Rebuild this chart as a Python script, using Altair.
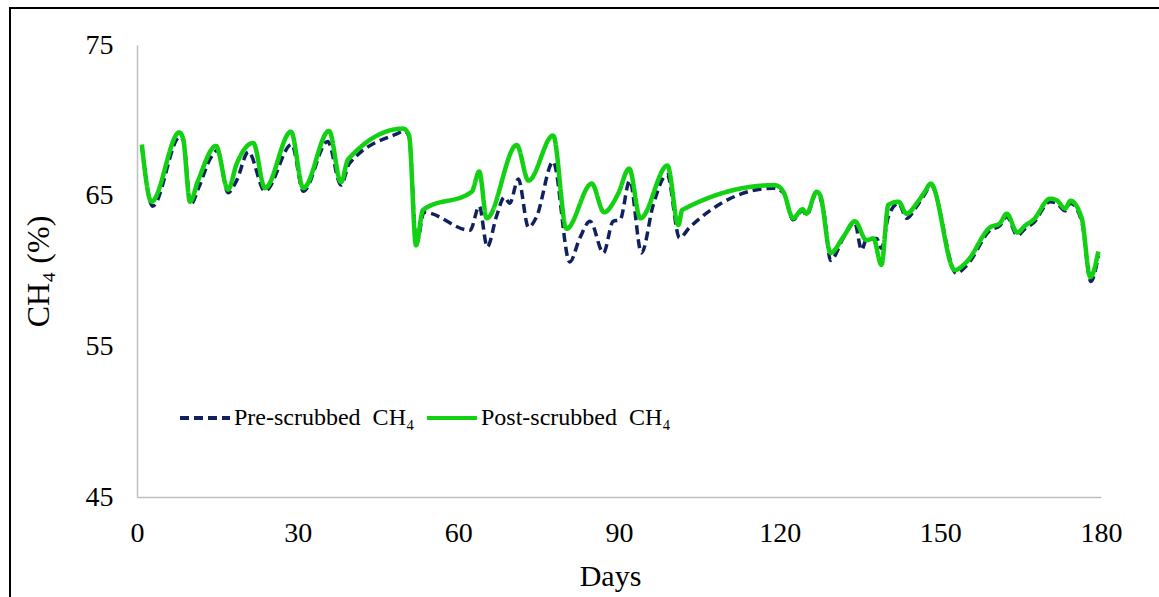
import altair as alt
import pandas as pd

pre_days = [0.9, 2.9, 8.0, 8.7, 10.0, 11.6, 13.6, 15.0, 17.0, 18.6, 20.8, 23.9, 28.9, 31.05,
            35.6, 38.1, 39.6, 48.5, 50.0, 50.8, 52.2, 53.6, 62.2, 63.9, 65.4, 67.1, 68.6,
            69.6, 71.2, 73.1, 74.6, 77.7, 80.8, 82.7, 84.6, 87.1, 88.9, 90.2, 92.0, 94.2,
            96.4, 99.0, 101.3, 103.2, 118.8, 120.7, 122.5, 124.3, 125.0, 126.9, 128.3,
            129.5, 131.9, 134.0, 135.3, 136.2, 138.1, 139.0, 140.3, 142.2, 143.7, 145.6,
            147.1, 148.2, 153.0, 155.0, 159.3, 161.1, 162.4, 164.4, 165.8, 167.4, 170.5,
            171.7, 173.3, 174.3, 176.4, 178.1, 179.5]
pre_vals = [68.3, 64.3, 68.9, 68.6, 64.4, 65.6, 67.4, 68.0, 65.2, 66.0, 67.9, 65.3, 68.4, 65.3,
            68.6, 65.7, 67.1, 69.1, 69.3, 68.9, 61.8, 63.9, 62.7, 64.3, 61.6, 63.6, 64.9,
            64.5, 66.1, 62.9, 63.6, 67.25, 60.6, 62.2, 63.3, 61.2, 63.3, 63.4, 66.0, 61.2,
            64.4, 66.4, 62.2, 62.9, 65.5, 65.2, 63.4, 64.0, 63.7, 65.2, 63.8,
            60.7, 62.2, 63.2, 61.4, 62.1, 62.16, 61.5, 63.6, 64.5, 63.5, 64.3,
            65.1, 65.7, 59.85, 60.4, 62.7, 63.0, 63.6, 62.35, 62.8, 63.2, 64.6,
            64.5, 64.0, 64.5, 63.3, 59.3, 61.0]

post_days = [0.9, 2.7, 7.9, 8.6, 9.9, 11.4, 14.75, 17.0, 18.6, 21.7, 23.9, 28.75, 31.05,
             35.85, 38.1, 39.4, 49.7, 50.8, 52.1, 53.4, 62.5, 63.9, 65.3, 70.9, 73.1, 77.7,
             80.2, 84.9, 87.2, 89.8, 91.9, 94.0, 99.05, 101.1, 101.8, 119.1, 120.7, 122.5,
             124.3, 125.0, 126.9, 127.6, 129.5, 131.9, 134.05, 136.2, 137.5, 139.0, 140.3,
             142.2, 143.7, 145.6, 147.1, 148.2, 152.7, 154.9, 159.3, 161.1, 162.4, 164.4,
             165.8, 167.4, 170.5, 171.7, 173.3, 174.3, 176.4, 178.0, 179.5]
post_vals = [68.4, 64.6, 69.2, 68.8, 64.6, 66.0, 68.3, 65.4, 67.1, 68.5, 65.5, 69.25, 65.5,
             69.3, 65.9, 67.4, 69.45, 69.0, 61.7, 64.05, 65.26, 66.6, 63.5, 68.36, 66.0, 69.0,
             62.8, 65.8, 63.9, 65.1, 66.8, 63.5, 67.0, 63.05, 64.05, 65.7, 65.26, 63.5,
             64.1, 63.8, 65.26, 65.0, 61.2, 62.27, 63.3, 62.05, 62.16, 60.4, 64.4,
             64.6, 63.8, 64.5, 65.26, 65.8, 60.06, 60.6, 62.9, 63.16, 63.8, 62.55,
             63.0, 63.4, 64.8, 64.7, 64.15, 64.66, 63.5, 59.6, 61.3]

series_names = ["Pre-scrubbed\u00a0 CH₄", "Post-scrubbed\u00a0 CH₄"]
series_colors = ["#10215e", "#12d012"]
x_ticks = [0, 30, 60, 90, 120, 150, 180]
y_ticks = [45, 55, 65, 75]

pre_df = pd.DataFrame({"day": pre_days, "val": pre_vals, "series": series_names[0]})
post_df = pd.DataFrame({"day": post_days, "val": post_vals, "series": series_names[1]})

FONT = "Liberation Serif"

x_enc = alt.X("day:Q", scale=alt.Scale(domain=[0, 180], nice=False),
              axis=alt.Axis(values=x_ticks, title="Days", grid=False, ticks=False,
                            domainColor="#bfbfbf", domainWidth=1.5, labelFlush=False,
                            labelFont=FONT, labelFontSize=28, labelColor="black",
                            labelPadding=22, titleFont=FONT, titleFontSize=30,
                            titleFontWeight="normal", titleColor="black",
                            titleX=473, titleY=88, titleBaseline="alphabetic"))
y_enc = alt.Y("val:Q", scale=alt.Scale(domain=[45, 75], nice=False),
              axis=alt.Axis(values=y_ticks, title="CH₄ (%)", grid=False, ticks=False,
                            domainColor="#bfbfbf", domainWidth=1.5, labelFlush=False,
                            labelFont=FONT, labelFontSize=28, labelColor="black",
                            labelPadding=24, titleFont=FONT, titleFontSize=32,
                            titleFontWeight="normal", titleColor="black",
                            titleX=-99, titleY=226, titleAngle=-90,
                            titleAlign="center", titleBaseline="middle"))

legend_cfg = dict(title=None, orient="none", legendX=41, legendY=346,
                  direction="horizontal", symbolType="stroke",
                  symbolSize=2500, symbolStrokeWidth=4,
                  labelFont=FONT, labelFontSize=24, labelColor="black",
                  labelOffset=2, columnPadding=4, labelLimit=400)

color_enc = alt.Color("series:N", scale=alt.Scale(domain=series_names, range=series_colors),
                      legend=alt.Legend(**legend_cfg))
dash_enc = alt.StrokeDash("series:N",
                          scale=alt.Scale(domain=series_names, range=[[9, 5], [1, 0]]),
                          legend=alt.Legend(**legend_cfg))

pre_line = alt.Chart(pre_df).mark_line(interpolate="monotone", strokeWidth=3.5).encode(
    x=x_enc, y=y_enc, color=color_enc, strokeDash=dash_enc)
post_line = alt.Chart(post_df).mark_line(interpolate="monotone", strokeWidth=4.5).encode(
    x=x_enc, y=y_enc, color=color_enc, strokeDash=dash_enc)

frame = alt.Chart(pd.DataFrame({"a": [0]})).mark_rect(
    fill=None, stroke="black", strokeWidth=2).encode(
    x=alt.value(-127), x2=alt.value(1100), y=alt.value(-37), y2=alt.value(620))

chart = alt.layer(frame, pre_line, post_line).properties(
    width=964, height=452,
    background="white",
    autosize=alt.AutoSizeParams(type="none"),
    padding={"left": 137, "top": 45, "right": 58, "bottom": 100},
).configure_view(stroke=None, strokeWidth=0)

chart.save("out.html", embed_options={"renderer": "svg", "actions": False})
